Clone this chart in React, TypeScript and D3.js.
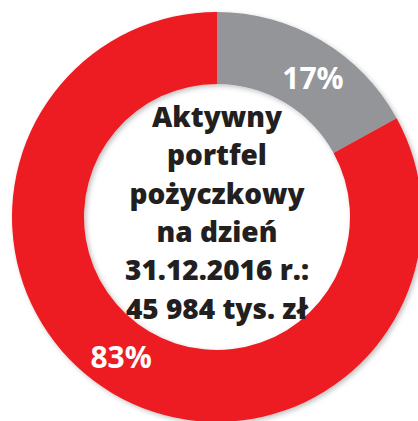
import React, {useEffect, useRef} from 'react'
import * as d3 from 'd3'

const W = 418
const H = 421

// portfolio split (percent)
const categories = ['inne', 'główne']
const values = [17, 83]
const labels = ['17%', '83%']
const colors = ['#939598', '#ed1c24']

const centerLines = ['Aktywny', 'portfel', 'pożyczkowy', 'na dzień', '31.12.2016 r.:', '45 984 tys. zł']

const cx = 217, cy = 217
const outerR = 205, innerR = 133
const fontFamily = '"Open Sans", "DejaVu Sans", sans-serif'

export default function App() {
  const ref = useRef<SVGSVGElement>(null)

  useEffect(() => {
    const svgRoot = d3.select(ref.current)
    svgRoot.selectAll('*').remove()

    const defs = svgRoot.append('defs')
    const f = defs.append('filter').attr('id', 'shadow')
      .attr('x', '-10%').attr('y', '-10%').attr('width', '120%').attr('height', '120%')
    f.append('feDropShadow')
      .attr('dx', 2).attr('dy', 2).attr('stdDeviation', 2.5)
      .attr('flood-color', '#000').attr('flood-opacity', 0.25)

    const svg = svgRoot.append('g').attr('transform', `translate(${cx},${cy})`)

    const data = categories.map((c, i) => ({key: c, value: values[i], label: labels[i], color: colors[i]}))
    const pie = d3.pie<any>().sort(null).value(d => d.value)
    const arcs = pie(data)

    const arc = d3.arc<any>().innerRadius(innerR).outerRadius(outerR)

    const ring = svg.append('g').attr('filter', 'url(#shadow)')
    ring.selectAll('path')
      .data(arcs)
      .enter()
      .append('path')
      .attr('d', arc)
      .attr('fill', d => d.data.color)

    // labels sit a bit clockwise of the slice middle
    const labelR = (innerR + outerR) / 2
    const shift = 4 * Math.PI / 180
    svg.selectAll('text.pct')
      .data(arcs)
      .enter()
      .append('text')
      .attr('class', 'pct')
      .text(d => d.data.label)
      .attr('x', d => Math.sin((d.startAngle + d.endAngle) / 2 + shift) * labelR)
      .attr('y', d => -Math.cos((d.startAngle + d.endAngle) / 2 + shift) * labelR)
      .attr('text-anchor', 'middle')
      .attr('dominant-baseline', 'central')
      .attr('fill', 'white')
      .attr('font-family', fontFamily)
      .attr('font-weight', 700)
      .attr('font-size', 30)

    const lineH = 38.3
    const firstY = 116 - cy
    svg.selectAll('text.center')
      .data(centerLines)
      .enter()
      .append('text')
      .attr('class', 'center')
      .text(d => d)
      .attr('x', 0)
      .attr('y', (d, i) => firstY + i * lineH)
      .attr('text-anchor', 'middle')
      .attr('dominant-baseline', 'central')
      .attr('fill', '#231f20')
      .attr('font-family', fontFamily)
      .attr('font-weight', 800)
      .attr('font-size', 28)
  }, [])

  return (
    <svg ref={ref} width={W} height={H}
      style={{position: 'absolute', left: 0, top: 0, background: 'white'}} />
  )
}
